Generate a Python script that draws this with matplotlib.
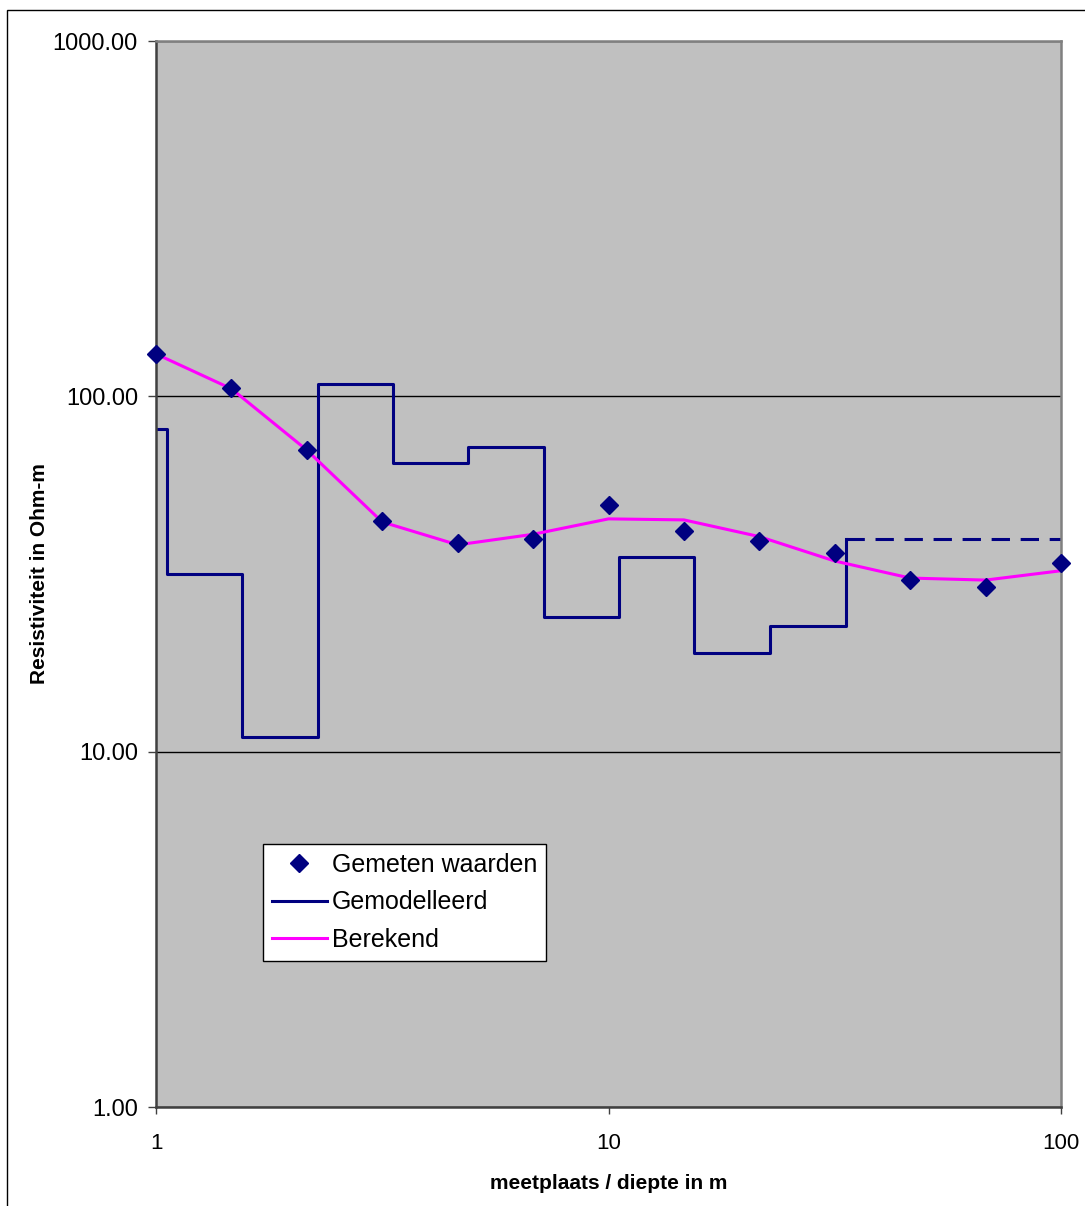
import matplotlib.pyplot as plt
from matplotlib.lines import Line2D
from matplotlib.patches import Rectangle
from matplotlib.ticker import FixedLocator, NullLocator, FormatStrFormatter

plt.rcParams['font.family'] = ['Liberation Sans', 'DejaVu Sans']

# meetpunten (afstand in m, schijnbare weerstand in Ohm-m)
afstand = [1.0, 1.468, 2.154, 3.162, 4.642, 6.813, 10.0, 14.68, 21.54, 31.62, 46.42, 68.13, 100.0]
gemeten = [131.6, 105.5, 70.6, 44.6, 38.7, 39.7, 49.5, 41.8, 39.2, 36.3, 30.4, 29.1, 34.0]
berekend = [131.6, 105.0, 70.6, 44.3, 38.2, 40.9, 45.2, 44.9, 40.3, 34.4, 30.8, 30.4, 32.3]

# gelaagd model: bovenkant laag (m) en weerstand (Ohm-m)
laag_top = [1.0, 1.056, 1.551, 2.277, 3.335, 4.90, 7.21, 10.57, 15.48, 22.75, 33.5]
laag_rho = [80.9, 31.6, 11.0, 108.0, 65.1, 72.2, 23.9, 35.2, 19.0, 22.6, 39.6]
onderste_laag_eind = 100.0

navy = '#000080'
magenta = '#FF00FF'

fig = plt.figure(figsize=(10.85, 12.06), dpi=100)
fig.patches.append(Rectangle((7 / 1085, -0.05), 1.2, 1 - 10 / 1206 + 0.05,
                             transform=fig.transFigure, fill=False,
                             edgecolor='black', linewidth=1.0))

ax = fig.add_axes([156 / 1085, 99 / 1206, 905 / 1085, 1066 / 1206])
ax.set_facecolor('#C0C0C0')
ax.set_xscale('log')
ax.set_yscale('log')
ax.set_xlim(1, 100)
ax.set_ylim(1, 1000)

ax.yaxis.set_major_locator(FixedLocator([1, 10, 100, 1000]))
ax.yaxis.set_minor_locator(NullLocator())
ax.yaxis.set_major_formatter(FormatStrFormatter('%.2f'))
ax.xaxis.set_major_locator(FixedLocator([1, 10, 100]))
ax.xaxis.set_minor_locator(NullLocator())
ax.xaxis.set_major_formatter(FormatStrFormatter('%g'))

ax.grid(True, axis='y', which='major', color='black', linewidth=1.0)
ax.set_axisbelow(True)

for side in ['top', 'right']:
    ax.spines[side].set_color('#808080')
    ax.spines[side].set_linewidth(1.8)
for side in ['left', 'bottom']:
    ax.spines[side].set_color('#404040')
    ax.spines[side].set_linewidth(1.8)

ax.tick_params(axis='y', length=6, width=1, color='#404040', labelsize=17, pad=7)
ax.tick_params(axis='x', length=5, width=1, color='#404040', labelsize=16, pad=14)

# model als trappenlijn, onderste laag gestippeld
ax.step(laag_top, laag_rho, where='post', color=navy, linewidth=2.2)
ax.plot([laag_top[-1], onderste_laag_eind], [laag_rho[-1], laag_rho[-1]],
        color=navy, linewidth=2.2, dashes=(6, 3.5))

ax.plot(afstand, berekend, color=magenta, linewidth=2.2)
ax.plot(afstand, gemeten, linestyle='none', marker='D', markersize=9,
        color=navy, markeredgecolor=navy, clip_on=False, zorder=5)

ax.set_xlabel('meetplaats / diepte in m', fontsize=15, fontweight='bold', labelpad=14)
ax.set_ylabel('Resistiviteit in Ohm-m', fontsize=15, fontweight='bold', labelpad=3)

handles = [
    Line2D([], [], linestyle='none', marker='D', markersize=9, color=navy),
    Line2D([], [], color=navy, linewidth=2.2),
    Line2D([], [], color=magenta, linewidth=2.2),
]
leg = ax.legend(handles, ['Gemeten waarden', 'Gemodelleerd', 'Berekend'],
                loc='lower left', bbox_to_anchor=(0.118, 0.137),
                fontsize=18, frameon=True, fancybox=False, framealpha=1,
                edgecolor='black', borderpad=0.35, labelspacing=0.55,
                handlelength=2.2, handletextpad=0.2, borderaxespad=0)
leg.get_frame().set_linewidth(1.0)

plt.savefig('out.png', dpi=100)
plt.close()
